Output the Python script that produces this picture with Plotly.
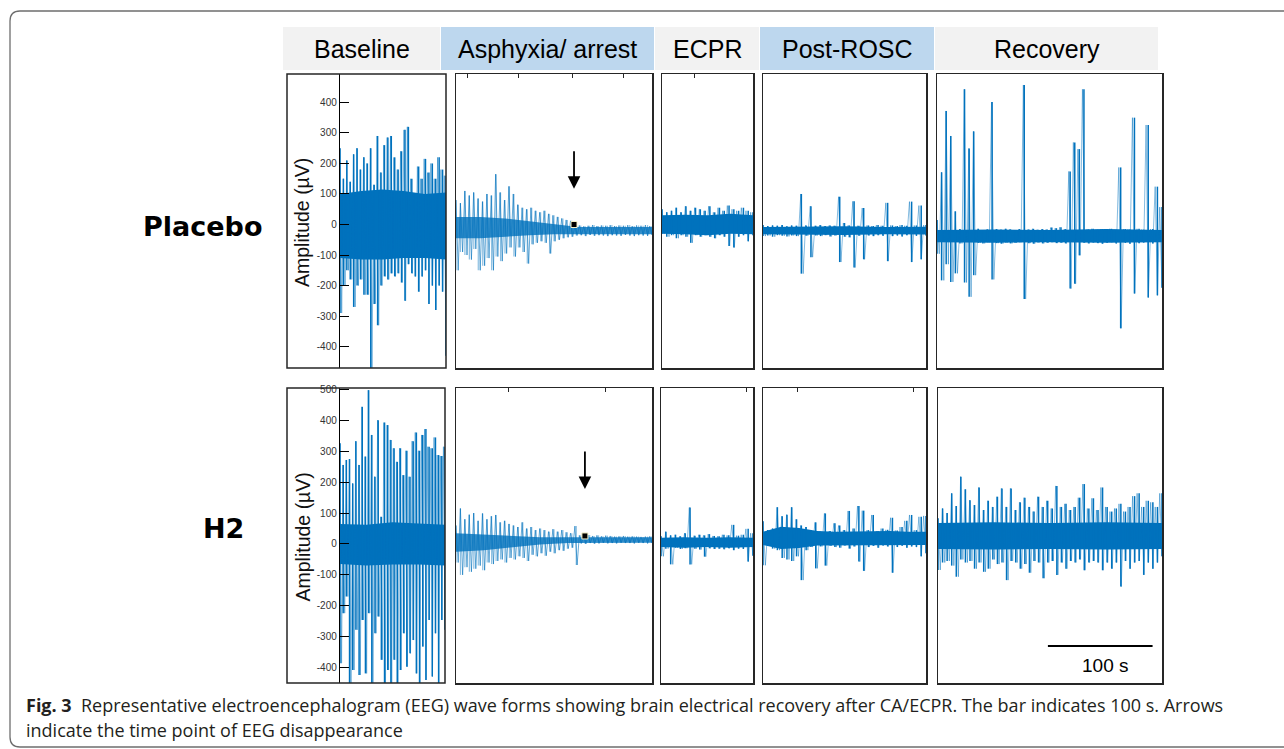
import numpy as np
import plotly.graph_objects as go

W, H = 1284, 749
BLUE = "#0072BD"

# ---------------- data (amplitudes in µV) ----------------
# each trace list = consecutive (max, min) pairs of the signal, left to right
phases = ["Baseline", "Asphyxia/ arrest", "ECPR", "Post-ROSC", "Recovery"]
groups = ["Placebo", "H2"]
durations_s = [100, 187, 87, 155, 214]          # seconds shown in each phase panel
scale_bar_s = 100
y_ticks_top = [-400, -300, -200, -100, 0, 100, 200, 300, 400]
y_ticks_bot = [-400, -300, -200, -100, 0, 100, 200, 300, 400, 500]

placebo_baseline = [250, -290, 150, -200, 210, -150, 140, -180, 230, -270,
                    250, -200, 180, -180, 220, -230, 200, -230, 250, -470,
                    130, -260, 290, -330, 170, -200, 260, -170, 285, -180,
                    290, -160, 220, -170, 180, -160, 240, -190, 310, -250,
                    320, -130, 150, -160, 100, -170, 190, -220, 150, -170,
                    215, -150, 170, -260, 200, -200, 150, -280, 220, -200,
                    180, -220, 160, -430]
placebo_asphyxia = [80, -150, 70, -90, 110, -100, 95, -115, 105, -80,
                    85, -150, 75, -135, 100, -110, 95, -150, 165, -105,
                    105, -120, 80, -95, 125, -75, 100, -105, 65, -75,
                    55, -90, 50, -128, 55, -65, 45, -60, 40, -55,
                    45, -60, 35, -95, 30, -55, 25, -50, 20, -45,
                    15, -42, 12, -40,
                    -5, -36, -3, -35, -6, -38, -4, -34, -2, -37,
                    -5, -35, -3, -36, -4, -38, -2, -35, -5, -36,
                    -3, -37, -4, -34, -2, -36, -5, -38, -3, -35,
                    -4, -36, -2, -37, -5, -34]
placebo_ecpr = [50, -30, 40, -40, 45, -35, 55, -45, 40, -35,
                60, -40, 45, -60, 55, -35, 50, -40, 45, -35,
                60, -40, 40, -45, 55, -35, 45, -40, 62, -70,
                50, -75, 45, -40, 55, -35, 45, -55, 40, -35]
placebo_post_rosc = [-2, -38, -5, -36, -3, -40, -4, -35, -2, -37,
                     -6, -39, -3, -36, -4, -38, 100, -161, -3, -37,
                     60, -107, -4, -36, -2, -38, -5, -35, -3, -39,
                     -4, -36, 91, -123, 5, -40, -3, -42, 76, -141,
                     -4, -37, 54, -114, -3, -36, -5, -38, -2, -35,
                     -4, -37, 71, -120, -3, -38, -5, -36, -2, -39,
                     -4, -35, 75, -123, -3, -37, 62, -114, -2, -36]
placebo_recovery = [15, -96, 171, -183, 372, -130, 290, -188, 43, -160,
                    -15, -62, 443, -190, 249, -237, 305, -166, -14, -60,
                    -18, -62, -16, -58, 401, -180, -15, -61, -17, -63,
                    -14, -59, -16, -62, -18, -60, -15, -58, 457, -244,
                    -16, -61, -14, -63, -17, -59, -15, -62, -16, -60,
                    -10, -58, -12, -61, -9, -60, -15, -62, 174, -210,
                    269, -194, 247, -101, 443, -60, -16, -62, -14, -59,
                    -17, -61, -15, -63, -16, -60, -14, -58, -17, -62,
                    187, -340, -15, -60, -16, -63, 350, -226, -14, -61,
                    -17, -59, 326, -239, -15, -62, 124, -232, 57, -207]

h2_baseline = [326, -386, 256, -224, 272, -170, 275, -480, 196, -408,
               333, -278, 256, -424, 444, -246, 283, -419, 498, -224,
               353, -480, 218, -289, 401, -235, 88, -375, 393, -480,
               385, -408, 337, -480, 310, -375, 266, -480, 310, -408,
               223, -289, 302, -397, 218, -354, 333, -311, 361, -419,
               302, -480, 353, -332, 372, -440, 315, -246, 310, -429,
               345, -289, 288, -480, 285, -246, 315, -278]
h2_asphyxia = [60, -60, 115, -100, 80, -75, 95, -90, 100, -80,
               75, -70, 99, -85, 80, -60, 90, -65, 94, -55,
               70, -50, 75, -60, 65, -45, 60, -50, 55, -40,
               70, -45, 50, -55, 55, -35, 45, -40, 50, -30,
               45, -38, 40, -25, 48, -30, 40, -20, 45, -22,
               38, -15, 35, -12, 58, -68,
               28, 2, 27, 0, 29, 3, 26, 1, 28, 2,
               25, 4, 27, 2, 26, 3, 24, 2, 25, 4,
               26, 3, 24, 3, 25, 2, 24, 4, 23, 3,
               24, 2, 25, 3]
h2_ecpr = [25, -40, 40, -15, 28, -66, 30, -12, 25, -16,
           35, -14, 118, -66, 27, -15, 30, -18, 28, -41,
           32, -14, 26, -16, 25, -15, 30, -17, 28, -14,
           62, -20, 27, -15, 30, -16, 49, -57, 35, -38]
h2_post_rosc = [74, -69, 45, -5, 50, -15, 119, -20, 90, -45,
                95, -50, 119, -55, 80, -40, 60, -117, 55, -20,
                45, -10, 70, -79, 40, -8, 99, -70, 42, -6,
                67, -10, 60, -12, 45, -5, 107, -15, 50, -8,
                123, -57, 108, -87, 45, -10, 94, -6, 42, -12,
                50, -5, 46, -8, 85, -93, 44, -10, 55, -6,
                75, -12, 94, -8, 45, -10, 88, -40, 91, -30]
h2_recovery = [83, -84, 115, -60, 100, -55, 164, -70, 123, -106, 218, -50, 177, -60, 142, -55, 126, -80, 183, -60,
               110, -90, 140, -80, 120, -50, 153, -65, 180, -60, 120, -117, 180, -55, 110, -60, 135, -80, 150, -65,
               120, -93, 105, -55, 153, -60, 120, -111, 140, -60, 115, -55, 188, -100, 120, -60, 130, -80, 110, -55,
               120, -60, 150, -50, 194, -85, 115, -60, 148, -55, 110, -60, 183, -85, 120, -60, 105, -80, 115, -60,
               130, -138, 105, -55, 120, -80, 155, -60, 164, -55, 120, -100, 140, -60, 135, -80, 120, -60, 164, -40]

# dense core of each trace (upper / lower edge, evenly spaced over the panel)
placebo_core_hi = [[100, 110, 115, 110, 100, 105], [25, 25, 20, 10, 0, -8, -8, -8, -8],
                   [30, 32, 30, 35, 30], [-8, -7, -6, -8, -7], [-18, -16, -18, -15, -18]]
placebo_core_lo = [[-110, -115, -115, -110, -110, -115], [-45, -45, -40, -35, -32, -32, -32, -32, -32],
                   [-30, -32, -35, -30, -32], [-32, -33, -34, -32, -33], [-58, -60, -58, -60, -58]]
h2_core_hi = [[65, 62, 70, 66, 62], [35, 30, 25, 22, 22, 22, 22, 22],
              [20, 22, 20, 22, 20], [40, 56, 52, 42, 40, 41, 40, 42, 40, 40], [68, 70, 68, 70, 68]]
h2_core_lo = [[-65, -70, -66, -66, -70], [-25, -20, -10, -2, 3, 4, 4, 4],
              [-10, -12, -10, -12, -10], [-3, -16, -13, -5, -3, -4, -3, -4, -3, -3], [-16, -18, -16, -18, -16]]

# time of EEG disappearance (s, within asphyxia panel) and level (µV)
arrest_t = [112.6, 123.0]
arrest_v = [0, 26]

# ---------------- layout geometry (pixels) ----------------
panel_x = [[(340, 446), (456, 652), (662, 753), (763, 926), (937, 1162)],
           [(340, 445), (456, 652), (661, 753), (763, 926), (938, 1162)]]
row_y = [(74, 368), (388, 683)]
row_range = [(-470, 493), (-450, 505)]
box_left = 287
header_x = [(283, 440), (441, 654), (655, 759), (760, 934), (935, 1158)]
header_y = (27, 70)
header_fill = ["#f2f2f2", "#bdd7ee", "#f2f2f2", "#bdd7ee", "#f2f2f2"]
top_ticks = [[[], [11, 60, 111, 160], [31], [], []],
             [[], [50, 143], [81], [33, 143], []]]


def fx(x):
    return x / W


def fy(y):
    # compensates the small vertical offset of the rendered page
    return 1 - (y - 4.0) / 745.0


rows_data = [
    [placebo_baseline, placebo_asphyxia, placebo_ecpr, placebo_post_rosc, placebo_recovery],
    [h2_baseline, h2_asphyxia, h2_ecpr, h2_post_rosc, h2_recovery],
]
rows_core = [(placebo_core_hi, placebo_core_lo), (h2_core_hi, h2_core_lo)]

fig = go.Figure()
layout = {}
shapes = []
annotations = []
LINE = "#262626"

n = 0
for r in range(2):
    y0, y1 = row_y[r]
    for c in range(5):
        n += 1
        sfx = "" if n == 1 else str(n)
        xa, ya = "x" + sfx, "y" + sfx
        x0, x1 = panel_x[r][c]
        dur = durations_s[c]
        vals = rows_data[r][c]
        chi, clo = rows_core[r][0][c], rows_core[r][1][c]
        light = (c == 1)
        # core band
        tc = np.linspace(0, dur, len(chi))
        fig.add_trace(go.Scatter(
            x=np.concatenate([tc, tc[::-1]]), y=list(chi) + list(clo)[::-1],
            fill="toself", fillcolor="rgba(0,114,189,0.8)" if light else BLUE,
            line=dict(width=0), mode="lines",
            xaxis=xa, yaxis=ya, hoverinfo="skip"))
        # oscillation (line through the samples)
        t = np.linspace(0, dur, len(vals))
        fig.add_trace(go.Scatter(
            x=t, y=vals, mode="lines",
            line=dict(color="rgba(0,114,189,0.6)", width=1.0 if light else 0.8),
            xaxis=xa, yaxis=ya, hoverinfo="skip"))
        # max/min columns
        hi, lo = vals[0::2], vals[1::2]
        tk = np.linspace(0, dur, len(hi))
        xs, ys = [], []
        for k in range(len(hi)):
            xs += [tk[k], tk[k], None]
            ys += [hi[k], lo[k], None]
        fig.add_trace(go.Scatter(
            x=xs, y=ys, mode="lines",
            line=dict(color="rgba(0,114,189,0.45)" if light else BLUE, width=1.2 if light else 1.5),
            xaxis=xa, yaxis=ya, hoverinfo="skip", connectgaps=False))
        tv = top_ticks[r][c]
        layout["xaxis" + sfx] = dict(
            domain=[fx(x0), fx(x1)], range=[0, dur], anchor=ya,
            showgrid=False, zeroline=False, showticklabels=False,
            side="top", ticks="inside" if tv else "", tickvals=tv, ticklen=4,
            tickcolor=LINE, showline=(c > 0), mirror=True, linecolor=LINE, linewidth=1.5,
            fixedrange=True)
        yd = dict(domain=[fy(y1), fy(y0)], range=list(row_range[r]), anchor=xa,
                  showgrid=False, zeroline=False, fixedrange=True)
        if c == 0:
            ticks = y_ticks_top if r == 0 else y_ticks_bot
            yd.update(showline=True, linecolor="#000", linewidth=1.2, mirror=False,
                      ticks="inside", ticklen=9, tickcolor="#000",
                      tickvals=ticks, ticktext=[str(v) for v in ticks],
                      showticklabels=True,
                      tickfont=dict(family="Liberation Sans, Arial", size=10, color="#333"))
            shapes.append(dict(type="rect", xref="paper", yref="paper",
                               x0=fx(box_left), x1=fx(x1), y0=fy(y1), y1=fy(y0),
                               line=dict(color=LINE, width=1.5)))
        else:
            yd.update(showline=True, mirror=True, linecolor=LINE, linewidth=1.5,
                      showticklabels=False, ticks="")
        layout["yaxis" + sfx] = yd

    # amplitude label
    annotations.append(dict(text="Amplitude (µV)", xref="paper", yref="paper",
                            x=fx(302), y=fy((y0 + y1) / 2 + 2),
                            textangle=-90, showarrow=False, xanchor="center", yanchor="middle",
                            font=dict(family="Liberation Sans, Arial", size=19.5, color="#111")))
    # group label
    annotations.append(dict(text="<b>%s</b>" % groups[r], xref="paper", yref="paper",
                            x=fx(202 if r == 0 else 223), y=fy(227 if r == 0 else 528),
                            showarrow=False, xanchor="center", yanchor="middle",
                            font=dict(family="DejaVu Sans", size=27, color="#000")))

# disappearance markers + arrows (asphyxia panels: axes 2 and 7)
for k, axn in enumerate(["2", "7"]):
    fig.add_trace(go.Scatter(x=[arrest_t[k]], y=[arrest_v[k]], mode="markers",
                             marker=dict(symbol="square", size=6, color="#000",
                                         line=dict(color="#f3efc9", width=1)),
                             xaxis="x" + axn, yaxis="y" + axn, hoverinfo="skip"))
    annotations.append(dict(x=arrest_t[k], y=(117 if k == 0 else 178), xref="x" + axn, yref="y" + axn,
                            ax=0, ay=-39, showarrow=True, arrowhead=2, arrowsize=1.4,
                            arrowwidth=1.8, arrowcolor="#000", text=""))

# scale bar in bottom recovery panel (axis 10)
fig.add_trace(go.Scatter(x=[105, 105 + scale_bar_s], y=[-330, -330], mode="lines",
                         line=dict(color="#000", width=2), xaxis="x10", yaxis="y10",
                         hoverinfo="skip"))
annotations.append(dict(text="%d s" % scale_bar_s, x=105 + scale_bar_s / 2 + 5, y=-392,
                        xref="x10", yref="y10", showarrow=False, xanchor="center", yanchor="middle",
                        font=dict(family="Liberation Sans, Arial", size=19, color="#000")))

# headers
for c in range(5):
    hx0, hx1 = header_x[c]
    shapes.append(dict(type="rect", xref="paper", yref="paper", layer="below",
                       x0=fx(hx0), x1=fx(hx1), y0=fy(header_y[1]), y1=fy(header_y[0]),
                       fillcolor=header_fill[c], line=dict(width=0)))
    annotations.append(dict(text=phases[c], xref="paper", yref="paper",
                            x=fx((hx0 + hx1) / 2), y=fy(49), showarrow=False,
                            xanchor="center", yanchor="middle",
                            font=dict(family="Liberation Sans, Arial", size=25, color="#000")))

# outer rounded frame
path = ("M {a},{t} L {b},{t} Q {l},{t} {l},{t2} L {l},{b2} Q {l},{bb} {b},{bb} L {a},{bb}"
        .format(a=fx(1300), b=fx(20), l=fx(10), t=fy(11), t2=fy(21), b2=fy(737), bb=fy(747)))
shapes.append(dict(type="path", xref="paper", yref="paper", path=path,
                   line=dict(color="#6e6e6e", width=1.3)))

# caption
cap_font = dict(family="Open Sans, Liberation Sans", size=18.0, color="#231f20")
annotations.append(dict(text="<b>Fig. 3</b>  Representative electroencephalogram (EEG) wave forms showing "
                             "brain electrical recovery after CA/ECPR. The bar indicates 100 s. Arrows",
                        xref="paper", yref="paper", x=fx(24), y=fy(705), showarrow=False,
                        xanchor="left", yanchor="middle", font=cap_font))
annotations.append(dict(text="indicate the time point of EEG disappearance",
                        xref="paper", yref="paper", x=fx(24), y=fy(730), showarrow=False,
                        xanchor="left", yanchor="middle", font=cap_font))

fig.update_layout(width=W, height=H, margin=dict(l=0, r=0, t=0, b=0),
                  paper_bgcolor="white", plot_bgcolor="white", showlegend=False,
                  shapes=shapes, annotations=annotations, **layout)
fig.write_html(
    "out.html",
    config={"displayModeBar": False, "staticPlot": True},
    post_script=("document.body.style.margin='0';document.body.style.padding='0';"
                 "var gd=document.getElementById('{plot_id}');"
                 "gd.style.position='absolute';gd.style.left='0px';gd.style.top='0px';"),
)
